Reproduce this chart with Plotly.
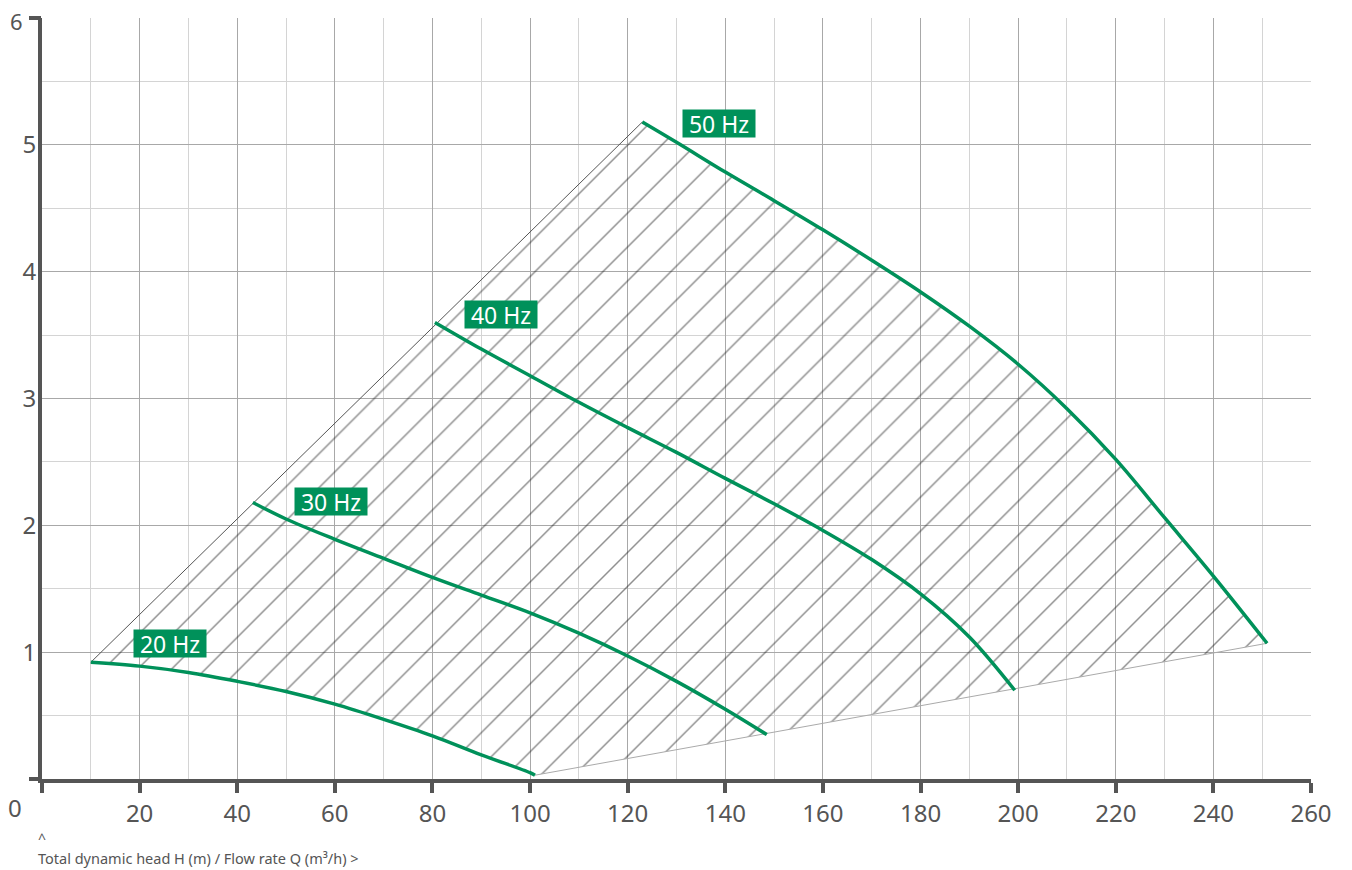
import plotly.graph_objects as go

# ---- data ----
q20 = [10, 20, 30, 40, 50, 60, 70, 80, 90, 100, 101]
h20 = [0.92, 0.89, 0.84, 0.77, 0.69, 0.59, 0.47, 0.34, 0.19, 0.05, 0.03]

q30 = [43.2, 50, 60, 70, 80, 90, 100, 110, 120, 130, 140, 148.5]
h30 = [2.18, 2.05, 1.89, 1.74, 1.59, 1.45, 1.31, 1.15, 0.97, 0.77, 0.55, 0.35]

q40 = [80.5, 90, 100, 110, 120, 130, 140, 150, 160, 170, 180, 190, 199.3]
h40 = [3.60, 3.39, 3.18, 2.97, 2.77, 2.575, 2.37, 2.17, 1.96, 1.73, 1.46, 1.12, 0.70]

q50 = [123, 130, 140, 150, 160, 170, 180, 190, 200, 210, 220, 230, 240, 251]
h50 = [5.18, 5.02, 4.785, 4.56, 4.33, 4.09, 3.84, 3.57, 3.27, 2.92, 2.52, 2.06, 1.60, 1.07]

left_q = [10, 123]
left_h = [0.92, 5.18]
low_q = [101, 251]
low_h = [0.03, 1.07]

labels = ["20 Hz", "30 Hz", "40 Hz", "50 Hz"]
label_q = [26.2, 59.2, 94.0, 138.7]
label_h = [1.07, 2.19, 3.66, 5.17]

x_ticks = list(range(0, 261, 20))
x_ticktext = [""] + [str(v) for v in x_ticks[1:]]
y_ticks = [0, 1, 2, 3, 4, 5, 6]
y_ticktext = ["", "1", "2", "3", "4", "5", ""]

GREEN = "#00915a"
AX = "#555555"
FONT = "Noto Sans"
TICK_SIZE = 24

fig = go.Figure()

# hatched operating area
poly_q = left_q + q50 + low_q[::-1] + q20[::-1]
poly_h = left_h + h50 + low_h[::-1] + h20[::-1]
fig.add_trace(go.Scatter(
    x=poly_q, y=poly_h, mode="lines", fill="toself",
    line=dict(width=0, color="rgba(0,0,0,0)"),
    fillcolor="rgba(0,0,0,0)",
    fillpattern=dict(shape="/", size=24, solidity=0.06, fgcolor="#1e1e1e",
                     bgcolor="rgba(0,0,0,0)", fillmode="overlay"),
    hoverinfo="skip", showlegend=False))

fig.add_trace(go.Scatter(x=left_q, y=left_h, mode="lines",
                         line=dict(color="#555555", width=1), showlegend=False))
fig.add_trace(go.Scatter(x=low_q, y=low_h, mode="lines",
                         line=dict(color="#aaaaaa", width=1), showlegend=False))

for q, h in [(q20, h20), (q30, h30), (q40, h40), (q50, h50)]:
    fig.add_trace(go.Scatter(x=q, y=h, mode="lines",
                             line=dict(color=GREEN, width=3.5, shape="spline", smoothing=1.0),
                             showlegend=False))

# second y axis carrying the end ticks
fig.add_trace(go.Scatter(x=[0], y=[0], yaxis="y2", mode="markers",
                         marker=dict(opacity=0), showlegend=False, hoverinfo="skip"))

for t, q, h in zip(labels, label_q, label_h):
    fig.add_annotation(x=q, y=h, text=t, showarrow=False,
                       font=dict(family=FONT, size=23, color="white"),
                       bgcolor=GREEN, borderpad=2, width=68, height=23,
                       xanchor="center", yanchor="middle")

fig.add_annotation(xref="paper", yref="paper", x=-0.0213, y=-0.038, text="0",
                   showarrow=False, font=dict(family=FONT, size=TICK_SIZE, color=AX),
                   xanchor="center", yanchor="middle")
fig.add_annotation(xref="paper", yref="paper", x=-0.0200, y=1.0, yshift=-3, text="6",
                   showarrow=False, font=dict(family=FONT, size=22, color=AX),
                   xanchor="center", yanchor="middle")
fig.add_annotation(xref="paper", yref="paper", x=-0.0003, y=-0.078, text="^",
                   showarrow=False, font=dict(family=FONT, size=14, color=AX),
                   xanchor="center", yanchor="middle")
fig.add_annotation(xref="paper", yref="paper", x=-0.0047, y=-0.1038,
                   text="Total dynamic head H (m) / Flow rate Q (m³/h) >",
                   showarrow=False, font=dict(family=FONT, size=14.5, color=AX),
                   xanchor="left", yanchor="middle")

# page body has an 8px default margin: figure is sized/margined to compensate
fig.update_layout(
    width=1344, height=862,
    margin=dict(l=34, r=41, t=10, b=91, autoexpand=False),
    plot_bgcolor="white", paper_bgcolor="white",
    font=dict(family=FONT, color=AX),
    xaxis=dict(range=[0, 260], tickvals=x_ticks, ticktext=x_ticktext,
               showgrid=True, gridcolor="#a8a8a8", gridwidth=1,
               minor=dict(dtick=10, showgrid=True, gridcolor="#d4d4d4", gridwidth=1),
               showline=True, linecolor=AX, linewidth=4,
               ticks="outside", ticklen=10, tickwidth=4, tickcolor=AX,
               ticklabeloverflow="allow",
               tickfont=dict(family=FONT, size=TICK_SIZE, color=AX),
               zeroline=False, fixedrange=True, automargin=False),
    yaxis=dict(range=[0, 6], tickvals=y_ticks, ticktext=y_ticktext,
               showgrid=True, gridcolor="#a8a8a8", gridwidth=1,
               minor=dict(dtick=0.5, showgrid=True, gridcolor="#d4d4d4", gridwidth=1),
               showline=True, linecolor=AX, linewidth=4,
               ticks="", ticklen=0, ticklabelstandoff=-3,
               ticklabeloverflow="allow",
               tickfont=dict(family=FONT, size=TICK_SIZE, color=AX),
               zeroline=False, fixedrange=True, automargin=False),
    yaxis2=dict(range=[0, 6], overlaying="y", side="left", tickvals=[0, 6],
                ticktext=["", ""], showgrid=False, showline=False,
                ticks="outside", ticklen=12, tickwidth=4, tickcolor=AX,
                tickfont=dict(family=FONT, size=TICK_SIZE, color=AX),
                zeroline=False, fixedrange=True, automargin=False),
)

fig.write_html("out.html")
